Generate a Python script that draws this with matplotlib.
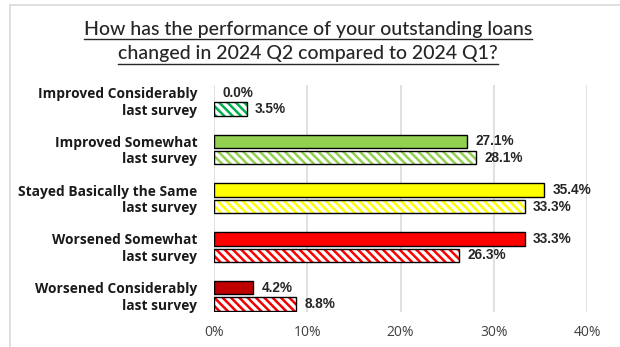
import matplotlib
matplotlib.use("Agg")
import matplotlib.pyplot as plt
from matplotlib.patches import Rectangle
from matplotlib.lines import Line2D
import numpy as np

categories = ["Improved Considerably", "Improved Somewhat", "Stayed Basically the Same",
              "Worsened Somewhat", "Worsened Considerably"]
current = [0.0, 27.1, 35.4, 33.3, 4.2]
last_survey = [3.5, 28.1, 33.3, 26.3, 8.8]
solid_colors = ["#00B050", "#92D050", "#FFFF00", "#FF0000", "#C00000"]
hatch_colors = ["#00B050", "#92D050", "#FFFF00", "#FF0000", "#F00000"]
x_ticks = [0, 10, 20, 30, 40]

plt.rcParams["hatch.linewidth"] = 1.8

fig = plt.figure(figsize=(6.2, 3.47), dpi=100)
ax = fig.add_axes([214 / 620, 35 / 347, 373 / 620, 227 / 347])

# light frame around the whole chart
fig.patches.append(Rectangle((10 / 620, -0.2), 1.2, 342 / 347 + 0.2, transform=fig.transFigure,
                             fill=False, edgecolor="#d9d9d9", linewidth=1.2))

idx = np.arange(len(categories))
off = 0.169
h = 0.275
y_cur = idx - off
y_last = idx + off

# no outline on empty bars
cur_lw = [1.0 if v > 0 else 0 for v in current]
last_lw = [1.0 if v > 0 else 0 for v in last_survey]

ax.barh(y_cur, current, height=h, color=solid_colors, edgecolor="black", linewidth=cur_lw, zorder=3)
ax.barh(y_last, last_survey, height=h, color="white", edgecolor=hatch_colors, hatch="\\\\\\\\",
        linewidth=0, zorder=3)
ax.barh(y_last, last_survey, height=h, fill=False, edgecolor="black", linewidth=last_lw, zorder=4)

for y, v in zip(y_cur, current):
    ax.text(v + 0.9, y, f"{v:.1f}%", va="center", ha="left", fontsize=9.8,
            fontweight="bold", family="Liberation Sans", color="#262626")
for y, v in zip(y_last, last_survey):
    ax.text(v + 0.9, y, f"{v:.1f}%", va="center", ha="left", fontsize=9.8,
            fontweight="bold", family="Liberation Sans", color="#262626")

ax.set_xlim(0, 40)
ax.set_ylim(idx[-1] + 0.33, -0.323)
ax.set_xticks(x_ticks)
ax.set_xticklabels([f"{t}%" for t in x_ticks], fontsize=10, family="Open Sans", color="#404040")
ax.set_yticks(np.concatenate([y_cur, y_last]))
ax.set_yticklabels(categories + ["last survey"] * len(categories), fontsize=9.9,
                   fontweight="bold", family="Open Sans", color="#1a1a1a")
ax.tick_params(axis="y", length=0, pad=12)
ax.tick_params(axis="x", length=0, pad=9)
for s in ax.spines.values():
    s.set_visible(False)
ax.grid(axis="x", color="#d9d9d9", linewidth=1.1, zorder=0)
ax.set_axisbelow(True)

# underlined two-line title
title_lines = ["How has the performance of your outstanding loans",
               "changed in 2024 Q2 compared to 2024 Q1?"]
ys = [1 - 29 / 347, 1 - 54 / 347]
fig.canvas.draw()
renderer = fig.canvas.get_renderer()
for line, y in zip(title_lines, ys):
    t = fig.text(308 / 620, y, line, ha="center", va="center", fontsize=14,
                 fontweight="medium", family="Lato", color="#262626")
    bb = t.get_window_extent(renderer=renderer).transformed(fig.transFigure.inverted())
    uy = bb.y0 - 1.0 / 347
    fig.lines.append(Line2D([bb.x0, bb.x1], [uy, uy], transform=fig.transFigure,
                            color="#262626", linewidth=1.0))

fig.savefig("out.png", dpi=100)
